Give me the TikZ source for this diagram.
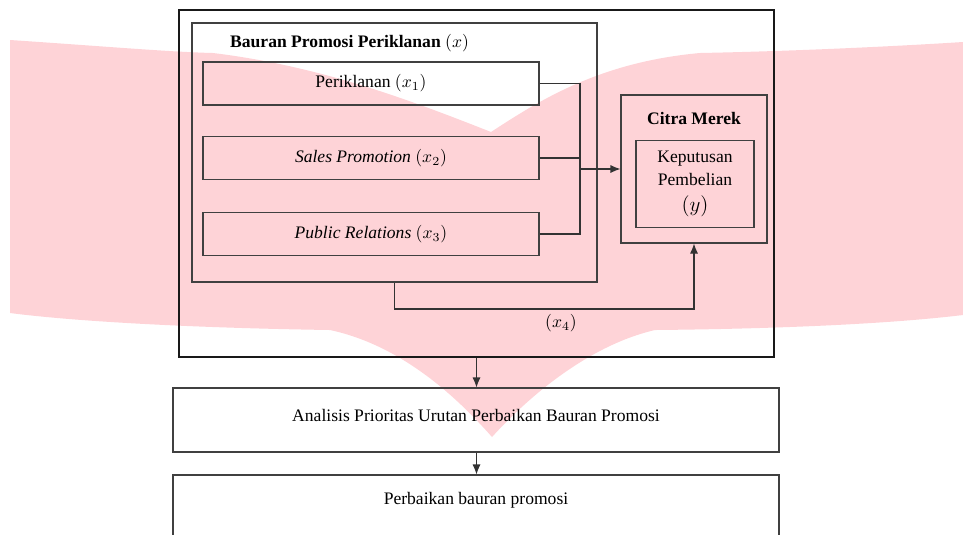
\documentclass[tikz,border=0pt]{standalone}
\usepackage{fontspec}
\setmainfont{Liberation Serif}
\usetikzlibrary{positioning,arrows.meta}

\definecolor{logopink}{RGB}{254,211,215}

\begin{document}
\begin{tikzpicture}[x=0.2mm,y=-0.2mm,
	box/.style={draw=black!75,line width=0.6pt,minimum width=67.2mm,minimum height=8.6mm,inner sep=0pt},
	wire/.style={draw=black!80,line width=0.6pt},
	tip/.style={-{Latex[length=2mm,width=1.6mm]}}]
	\useasboundingbox (0,0) rectangle (963,534);
	% Watermark behind the chart
	\fill[logopink] (10,40) .. controls (100,46) and (170,52) .. (213,53)
		.. controls (320,66) and (410,100) .. (491,132)
		.. controls (540,100) and (600,62) .. (700,53)
		.. controls (800,51) and (900,46) .. (963,42) -- (963,315)
		.. controls (880,325) and (760,329) .. (655,330)
		.. controls (590,345) and (530,395) .. (492,437)
		.. controls (455,395) and (400,345) .. (330,330)
		.. controls (200,328) and (80,322) .. (10,313) -- cycle;
	% Outer frame and the promotion mix
	\node[box,draw=black!90,minimum width=119mm,minimum height=69.4mm] (frame) at (476.5,183.5) {};
	\node[box,minimum width=81mm,minimum height=51.8mm] (mix) at (394.5,152.5) {};
	\node[anchor=west] (mixtitle) at (224,43) {\bfseries Bauran Promosi Periklanan $(x)$};
	\node[box] (p1) at (371,83.5) {Periklanan $(x_1)$};
	\node[box] (p2) at (371,158) {\textit{Sales Promotion} $(x_2)$};
	\node[box] (p3) at (371,234) {\textit{Public Relations} $(x_3)$};
	% Brand image and purchase decision
	\node[box,minimum width=29.2mm,minimum height=29.6mm] (citra) at (694,169) {};
	\node (citratitle) at (694,118) {\bfseries Citra Merek};
	\node[box,minimum width=23.6mm,minimum height=17.4mm,align=center] (decision) at (695,184) {Keputusan\\[1pt]Pembelian\\[3pt]{\large$(y)$}};
	% Bus from x1..x3 into the brand box
	\coordinate (bustop) at (580,83.5);
	\coordinate (busbot) at (580,234);
	\draw[wire] (p1.east) -- (bustop) -- (busbot) -- (p3.east);
	\draw[wire] (p2.east) -- (p2.east -| bustop);
	\draw[wire,tip] (citra.west -| bustop) -- (citra.west);
	% Direct path x4
	\coordinate (x4turn) at (394.5,309);
	\draw[wire,tip] (mix.south) -- (x4turn) -| (citra.south);
	\node (x4label) at (561,323) {$(x_4)$};
	% Lower steps
	\node[box,minimum width=121.2mm,minimum height=12.8mm] (analysis) at (476,420) {};
	\node (analysistext) at (476,415) {Analisis Prioritas Urutan Perbaikan Bauran Promosi};
	\node[box,minimum width=121.2mm,minimum height=14mm] (improve) at (476,510) {};
	\node (improvetext) at (476,500) {Perbaikan bauran promosi};
	\draw[wire,tip] (frame.south) -- (frame.south |- analysis.north);
	\draw[wire,tip] (analysis.south -| frame.south) -- (frame.south |- improve.north);
\end{tikzpicture}
\end{document}
